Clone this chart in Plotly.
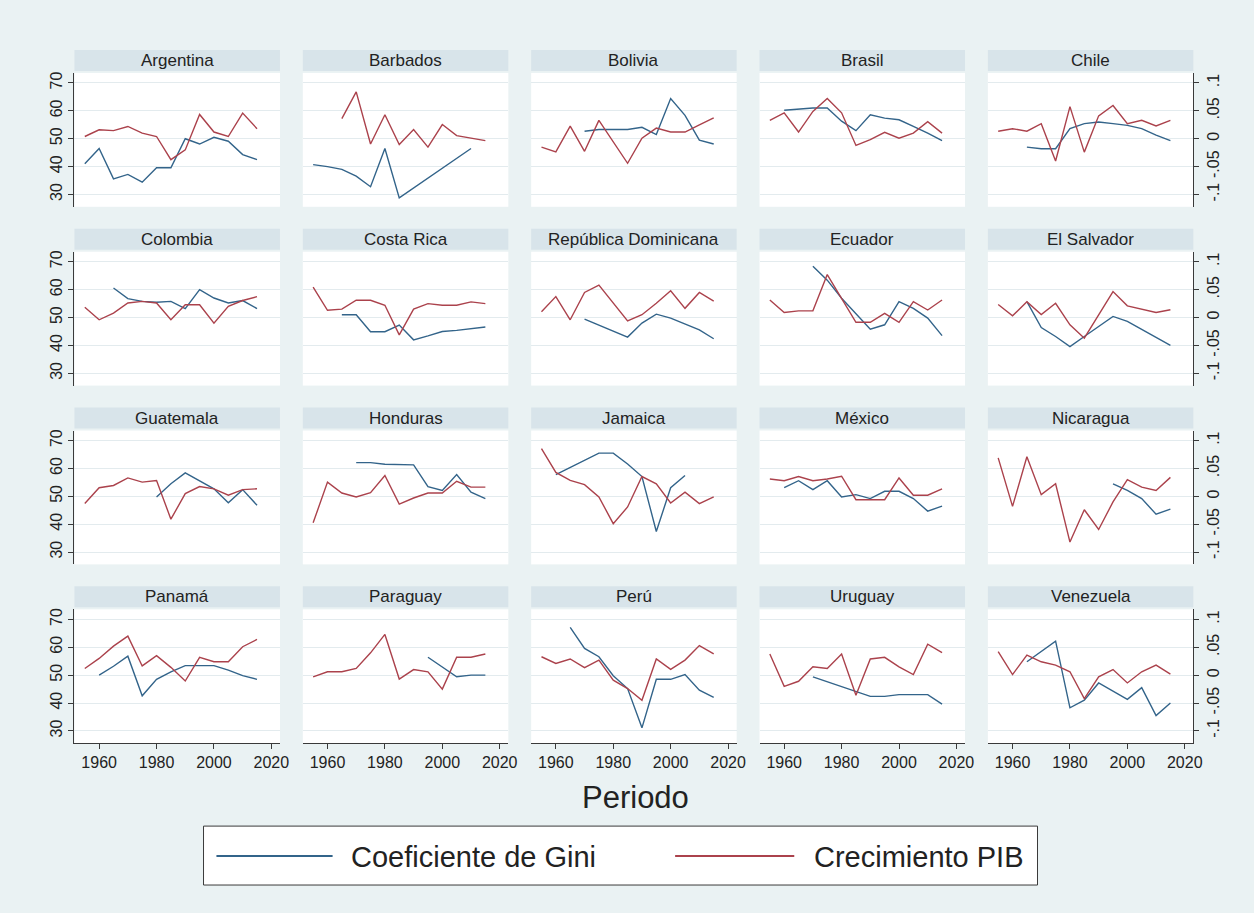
import plotly.graph_objects as go

# ---------------- data ----------------
years = [1955, 1960, 1965, 1970, 1975, 1980, 1985, 1990, 1995, 2000, 2005, 2010, 2015]
x_ticks = [1960, 1980, 2000, 2020]
gini_ticks = [30, 40, 50, 60, 70]
pib_ticks = [-0.1, -0.05, 0, 0.05, 0.1]
pib_ticktext = ["-.1", "-.05", "0", ".05", ".1"]

countries = ["Argentina", "Barbados", "Bolivia", "Brasil", "Chile",
             "Colombia", "Costa Rica", "República Dominicana", "Ecuador", "El Salvador",
             "Guatemala", "Honduras", "Jamaica", "México", "Nicaragua",
             "Panamá", "Paraguay", "Perú", "Uruguay", "Venezuela"]

N = None
gini_argentina = [41.0, 46.5, 35.6, 37.2, 34.4, 39.6, 39.6, 50.0, 48.1, 50.5, 49.1, 44.3, 42.5]
pib_argentina = [0.004, 0.016, 0.0145, 0.022, 0.010, 0.004, -0.0375, -0.020, 0.0435, 0.012, 0.004, 0.046, 0.018]
gini_barbados = [40.7, 40.0, 39.0, 36.6, 32.8, 46.5, 28.8, N, N, N, N, 46.5, N]
pib_barbados = [N, N, 0.036, 0.084, -0.0095, 0.043, -0.0105, 0.0165, -0.015, 0.0255, 0.0055, 0.0015, -0.0035]
gini_bolivia = [N, N, N, 52.7, 53.3, 53.3, 53.3, 54.1, 51.5, 64.4, 58.4, 49.5, 48.1]
pib_bolivia = [-0.015, -0.0235, 0.0225, -0.0225, 0.033, -0.0045, -0.044, 0.001, 0.019, 0.012, 0.012, 0.025, 0.0375]
gini_brasil = [N, 60.2, 60.7, 61.0, 61.0, 56.3, 52.9, 58.6, 57.4, 56.8, 54.4, 52.0, 49.3]
pib_brasil = [0.033, 0.0465, 0.012, 0.049, 0.072, 0.0465, -0.012, -0.0015, 0.0115, 0.001, 0.010, 0.0305, 0.010]
gini_chile = [N, N, 47.0, 46.4, 46.4, 53.6, 55.4, 56.0, 55.4, 54.8, 53.6, 51.3, 49.3]
pib_chile = [0.0135, 0.018, 0.0135, 0.027, -0.040, 0.0575, -0.024, 0.041, 0.0595, 0.027, 0.033, 0.023, 0.033]
gini_colombia = [N, N, 60.6, 56.8, 55.8, 55.5, 55.8, 53.2, 60.0, 57.0, 55.2, 56.1, 53.2]
pib_colombia = [0.0185, -0.004, 0.008, 0.026, 0.029, 0.026, -0.004, 0.023, 0.023, -0.010, 0.020, 0.0305, 0.0375]
gini_costarica = [N, N, 51.0, 51.0, 44.9, 44.9, 47.3, 42.0, 43.4, 45.0, 45.4, 46.0, 46.6]
pib_costarica = [0.0545, 0.013, 0.015, 0.031, 0.031, 0.022, -0.031, 0.015, 0.025, 0.022, 0.022, 0.028, 0.025]
gini_repdom = [N, N, N, 49.4, 47.2, 45.0, 43.0, 48.0, 51.2, 49.8, 47.8, 45.6, 42.4]
pib_repdom = [0.0105, 0.0375, -0.004, 0.045, 0.058, 0.0255, -0.006, 0.005, 0.0255, 0.048, 0.0165, 0.045, 0.0295]
gini_ecuador = [N, N, N, 68.4, 63.4, 56.9, 51.5, 45.8, 47.4, 55.7, 53.3, 49.8, 43.5]
pib_ecuador = [0.0315, 0.009, 0.012, 0.012, 0.077, 0.0345, -0.0085, -0.0085, 0.0075, -0.0085, 0.0285, 0.0135, 0.0315]
gini_elsalvador = [N, N, 55.7, 46.4, 43.2, 39.6, 43.2, 46.8, 50.4, 48.6, 45.6, 42.9, 40.0]
pib_elsalvador = [0.0235, 0.003, 0.0285, 0.0055, 0.0255, -0.013, -0.037, 0.005, 0.0465, 0.021, 0.0155, 0.009, 0.014]
gini_guatemala = [N, N, N, N, N, 49.8, 54.5, 58.4, 55.7, 52.7, 47.7, 52.4, 46.8]
pib_guatemala = [-0.013, 0.0155, 0.0195, 0.033, 0.0255, 0.0285, -0.041, 0.005, 0.0175, 0.0135, 0.002, 0.012, 0.0135]
gini_honduras = [N, N, N, 62.1, 62.1, 61.5, 61.5, 61.3, 53.5, 52.1, 57.8, 51.5, 49.2]
pib_honduras = [-0.0475, 0.0255, 0.006, -0.001, 0.0065, 0.0375, -0.014, -0.003, 0.006, 0.006, 0.027, 0.0165, 0.0165]
gini_jamaica = [N, 57.8, 60.4, 63.0, 65.5, 65.5, 61.6, 57.1, 37.4, 53.1, 57.5, N, N]
pib_jamaica = [0.0855, 0.043, 0.0285, 0.021, -0.001, -0.049, -0.019, 0.0355, 0.0225, -0.012, 0.0075, -0.013, -0.001]
gini_mexico = [N, 53.1, 55.6, 52.4, 55.6, 49.8, 50.6, 49.2, 51.8, 51.8, 49.2, 44.7, 46.5]
pib_mexico = [0.031, 0.028, 0.0355, 0.028, 0.031, 0.036, -0.006, -0.006, -0.006, 0.033, 0.002, 0.002, 0.0135]
gini_nicaragua = [N, N, N, N, N, N, N, N, 54.5, 52.1, 49.2, 43.6, 45.4]
pib_nicaragua = [0.069, -0.018, 0.071, 0.003, 0.0225, -0.082, -0.024, -0.0595, -0.010, 0.030, 0.0165, 0.0105, 0.034]
gini_panama = [N, 50.0, 53.2, 56.8, 42.6, 48.5, 51.2, 53.4, 53.4, 53.4, 51.8, 49.8, 48.5]
pib_panama = [0.012, 0.030, 0.052, 0.070, 0.0165, 0.035, 0.014, -0.0105, 0.032, 0.024, 0.024, 0.051, 0.064]
gini_paraguay = [N, N, N, N, N, N, N, N, 56.4, 52.8, 49.4, 50.0, 50.0]
pib_paraguay = [-0.003, 0.006, 0.006, 0.012, 0.040, 0.073, -0.007, 0.010, 0.006, -0.025, 0.032, 0.032, 0.038]
gini_peru = [N, N, 67.1, 59.6, 56.6, 49.8, 45.2, 31.1, 48.5, 48.5, 50.2, 44.6, 42.0]
pib_peru = [0.033, 0.021, 0.029, 0.0135, 0.027, -0.009, -0.024, -0.045, 0.029, 0.0105, 0.027, 0.053, 0.038]
gini_uruguay = [N, N, N, 49.4, 47.6, 45.8, 44.0, 42.4, 42.4, 43.0, 43.0, 43.0, 39.6]
pib_uruguay = [0.038, -0.020, -0.011, 0.015, 0.012, 0.038, -0.036, 0.029, 0.032, 0.015, 0.001, 0.0555, 0.0405]
gini_venezuela = [N, N, 54.8, 58.4, 62.2, 38.3, 41.0, 47.2, 44.2, 41.3, 45.5, 35.5, 40.0]
pib_venezuela = [0.042, 0.001, 0.036, 0.024, 0.018, 0.006, -0.042, -0.003, 0.010, -0.014, 0.006, 0.018, 0.002]

gini_series = [gini_argentina, gini_barbados, gini_bolivia, gini_brasil, gini_chile,
               gini_colombia, gini_costarica, gini_repdom, gini_ecuador, gini_elsalvador,
               gini_guatemala, gini_honduras, gini_jamaica, gini_mexico, gini_nicaragua,
               gini_panama, gini_paraguay, gini_peru, gini_uruguay, gini_venezuela]
pib_series = [pib_argentina, pib_barbados, pib_bolivia, pib_brasil, pib_chile,
              pib_colombia, pib_costarica, pib_repdom, pib_ecuador, pib_elsalvador,
              pib_guatemala, pib_honduras, pib_jamaica, pib_mexico, pib_nicaragua,
              pib_panama, pib_paraguay, pib_peru, pib_uruguay, pib_venezuela]

legend_gini = "Coeficiente de Gini"
legend_pib = "Crecimiento PIB"
x_title = "Periodo"

# ---------------- style ----------------
W, H = 1254, 913
BG = "#eaf2f3"
STRIP = "#d8e4ea"
GRID = "#e3ebee"
BLUE = "#33648a"
RED = "#ab424c"
AXIS = "#3a3a3a"
TXT = "#222222"
FONT = "Liberation Sans, Arial, sans-serif"
TICK_SIZE = 16


def px(x):
    return x / W


def py(y):
    return 1 - y / H


fig = go.Figure()
layout = {}
shapes = []
annotations = []

for i, name in enumerate(countries):
    r, c = divmod(i, 5)
    x0 = 75 + 230 * c
    x1 = x0 + 207
    top = 72 + 179 * r
    bot = top + 134
    xa = "x" if i == 0 else f"x{i + 1}"
    ya = "y" if i == 0 else f"y{2 * i + 1}"
    yb = f"y{2 * i + 2}"
    xkey = "xaxis" if i == 0 else f"xaxis{i + 1}"
    ykey = "yaxis" if i == 0 else f"yaxis{2 * i + 1}"
    y2key = f"yaxis{2 * i + 2}"

    bottom_row = r == 3
    layout[xkey] = dict(
        domain=[px(x0), px(x1)], range=[1951.4, 2023.0], anchor=ya,
        showgrid=False, zeroline=False, tickvals=x_ticks,
        showticklabels=bottom_row, ticks="outside" if bottom_row else "",
        ticklen=5, tickcolor=AXIS, showline=bottom_row, linecolor=AXIS, linewidth=1,
        tickfont=dict(family=FONT, size=TICK_SIZE, color=TXT),
    )
    layout[ykey] = dict(
        domain=[py(bot), py(top)], range=[25.6, 73.6], anchor=xa,
        tickvals=gini_ticks, showgrid=True, gridcolor=GRID, gridwidth=1,
        zeroline=False, showticklabels=(c == 0), ticks="outside" if c == 0 else "",
        ticklen=5, tickcolor=AXIS, showline=(c == 0), linecolor=AXIS, linewidth=1,
        tickangle=-90, tickfont=dict(family=FONT, size=TICK_SIZE, color=TXT),
    )
    layout[y2key] = dict(
        overlaying=ya, side="right", anchor=xa, range=[-0.122, 0.118],
        tickvals=pib_ticks, ticktext=pib_ticktext, showgrid=False, zeroline=False,
        showticklabels=(c == 4), ticks="outside" if c == 4 else "",
        ticklen=5, tickcolor=AXIS, showline=(c == 4), linecolor=AXIS, linewidth=1,
        tickangle=-90, tickfont=dict(family=FONT, size=TICK_SIZE, color=TXT),
    )

    fig.add_trace(go.Scatter(x=years, y=gini_series[i], mode="lines", xaxis=xa, yaxis=ya,
                             line=dict(color=BLUE, width=1.4), connectgaps=True,
                             name=legend_gini, showlegend=False))
    fig.add_trace(go.Scatter(x=years, y=pib_series[i], mode="lines", xaxis=xa, yaxis=yb,
                             line=dict(color=RED, width=1.4), connectgaps=True,
                             name=legend_pib, showlegend=False))

    shapes.append(dict(type="rect", xref="paper", yref="paper",
                       x0=px(x0), x1=px(x1), y0=py(top - 2), y1=py(top - 23),
                       fillcolor=STRIP, line=dict(width=0), layer="below"))
    annotations.append(dict(text=name, xref="paper", yref="paper",
                            x=px((x0 + x1) / 2), y=py(top - 12.5),
                            xanchor="center", yanchor="middle", showarrow=False,
                            font=dict(family=FONT, size=17, color=TXT)))

# x title
annotations.append(dict(text=x_title, xref="paper", yref="paper", x=px(640), y=py(797),
                        xanchor="center", yanchor="middle", showarrow=False,
                        font=dict(family=FONT, size=31, color=TXT)))

# legend box
shapes.append(dict(type="rect", xref="paper", yref="paper", x0=px(205), x1=px(1045),
                   y0=py(885), y1=py(826), fillcolor="white", line=dict(color=AXIS, width=1)))
shapes.append(dict(type="line", xref="paper", yref="paper", x0=px(218), x1=px(335),
                   y0=py(856), y1=py(856), line=dict(color=BLUE, width=2)))
shapes.append(dict(type="line", xref="paper", yref="paper", x0=px(680), x1=px(800),
                   y0=py(856), y1=py(856), line=dict(color=RED, width=2)))
annotations.append(dict(text=legend_gini, xref="paper", yref="paper", x=px(352), y=py(857),
                        xanchor="left", yanchor="middle", showarrow=False,
                        font=dict(family=FONT, size=29, color=TXT)))
annotations.append(dict(text=legend_pib, xref="paper", yref="paper", x=px(818), y=py(857),
                        xanchor="left", yanchor="middle", showarrow=False,
                        font=dict(family=FONT, size=29, color=TXT)))

fig.update_layout(
    width=W, height=H, margin=dict(l=0, r=0, t=0, b=0),
    paper_bgcolor=BG, plot_bgcolor="white", showlegend=False,
    shapes=shapes, annotations=annotations, **layout,
)

fig.write_html(
    "out.html",
    config={"displayModeBar": False},
    post_script="document.body.style.margin='0';document.body.style.padding='0';",
)
